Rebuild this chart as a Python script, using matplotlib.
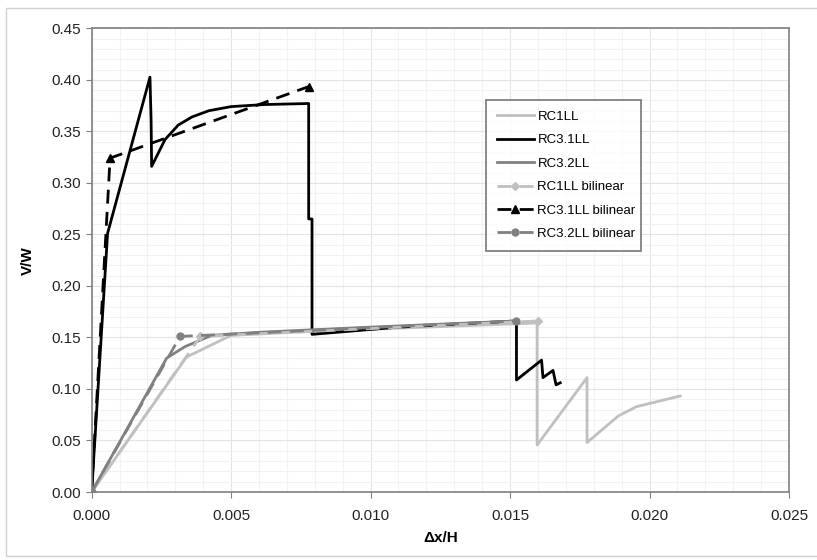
import matplotlib
matplotlib.use('Agg')
import matplotlib.pyplot as plt
from matplotlib.patches import Rectangle
from matplotlib.ticker import MultipleLocator

plt.rcParams['font.family'] = ['Liberation Sans', 'DejaVu Sans']

# measured curves
rc1_x = [0.0, 0.0034, 0.0050, 0.0080, 0.0120, 0.01597, 0.01597, 0.01776, 0.01776, 0.01888, 0.01953, 0.0211]
rc1_y = [0.0, 0.131, 0.152, 0.156, 0.160, 0.164, 0.0456, 0.111, 0.048, 0.0738, 0.0828, 0.0932]

rc31_x = [0.0, 0.00057, 0.00209, 0.00213, 0.00215, 0.00263, 0.0031, 0.0036, 0.0042, 0.0050, 0.0062,
          0.00778, 0.00778, 0.0079, 0.0079, 0.0110, 0.01523, 0.01523, 0.01613, 0.01618, 0.01654,
          0.01665, 0.0168]
rc31_y = [0.0, 0.251, 0.4026, 0.361, 0.316, 0.342, 0.356, 0.364, 0.370, 0.374, 0.376,
          0.377, 0.265, 0.265, 0.153, 0.160, 0.166, 0.1087, 0.128, 0.111, 0.118,
          0.104, 0.106]

rc32_x = [0.0, 0.00269, 0.00334, 0.0043, 0.0060, 0.0100, 0.01523]
rc32_y = [0.0, 0.130, 0.141, 0.152, 0.155, 0.160, 0.166]

# bilinear idealisations
rc1_bi_x = [0.0, 0.0039, 0.0160]
rc1_bi_y = [0.0, 0.151, 0.166]
rc31_bi_x = [0.0, 0.00066, 0.00779]
rc31_bi_y = [0.0, 0.324, 0.3935]
rc32_bi_x = [0.0, 0.00317, 0.01523]
rc32_bi_y = [0.0, 0.151, 0.166]

light = '#c0c0c0'
mid = '#808080'

fig = plt.figure(figsize=(8.17, 5.60), dpi=100)
fig.patches.append(Rectangle((6 / 817, 4 / 560), 1.2, 548 / 560, transform=fig.transFigure,
                             fill=False, edgecolor='#d0d0d0', linewidth=1.0))
ax = fig.add_axes([0.1122, 0.1214, 0.8535, 0.8281])

ax.plot(rc1_x, rc1_y, color=light, lw=2, label='RC1LL')
ax.plot(rc31_x, rc31_y, color='black', lw=2, label='RC3.1LL')
ax.plot(rc32_x, rc32_y, color=mid, lw=2, label='RC3.2LL')
ax.plot(rc1_bi_x, rc1_bi_y, color=light, lw=2, ls=(0, (5, 3)), marker='D', ms=4,
        label='RC1LL bilinear')
ax.plot(rc31_bi_x, rc31_bi_y, color='black', lw=2, ls=(0, (5, 3)), marker='^', ms=6,
        label='RC3.1LL bilinear')
ax.plot(rc32_bi_x, rc32_bi_y, color=mid, lw=2, ls=(0, (5, 3)), marker='o', ms=5,
        label='RC3.2LL bilinear')

ax.set_xlim(0, 0.025)
ax.set_ylim(0, 0.45)
ax.xaxis.set_major_locator(MultipleLocator(0.005))
ax.xaxis.set_minor_locator(MultipleLocator(0.001))
ax.yaxis.set_major_locator(MultipleLocator(0.05))
ax.yaxis.set_minor_locator(MultipleLocator(0.01))
ax.xaxis.set_major_formatter(lambda v, p: f'{v:.3f}')
ax.yaxis.set_major_formatter(lambda v, p: f'{v:.2f}')
ax.grid(which='major', color='#e4e4e4', lw=0.8)
ax.grid(which='minor', color='#f2f2f2', lw=0.8)
ax.set_axisbelow(True)
ax.tick_params(which='major', direction='out', length=4, color=mid, labelsize=11,
               labelcolor='#222222')
ax.tick_params(which='minor', length=0)
ax.tick_params(axis='x', pad=8)
for s in ax.spines.values():
    s.set_color(mid)
    s.set_linewidth(1.2)

ax.set_xlabel('Δx/H', fontsize=11, fontweight='bold', labelpad=6)
ax.set_ylabel('V/W', fontsize=11, fontweight='bold', labelpad=12)

leg = ax.legend(loc='upper left', bbox_to_anchor=(486 / 817, 1 - 248 / 560, 155 / 817, 148 / 560),
                bbox_transform=fig.transFigure, mode='expand', borderaxespad=0, fontsize=9.5,
                frameon=True, fancybox=False, edgecolor='#555555', handlelength=2.8,
                labelspacing=0.85, borderpad=0.8, handletextpad=0.3)
leg.get_frame().set_linewidth(1.2)

fig.savefig('out.png', dpi=100)
